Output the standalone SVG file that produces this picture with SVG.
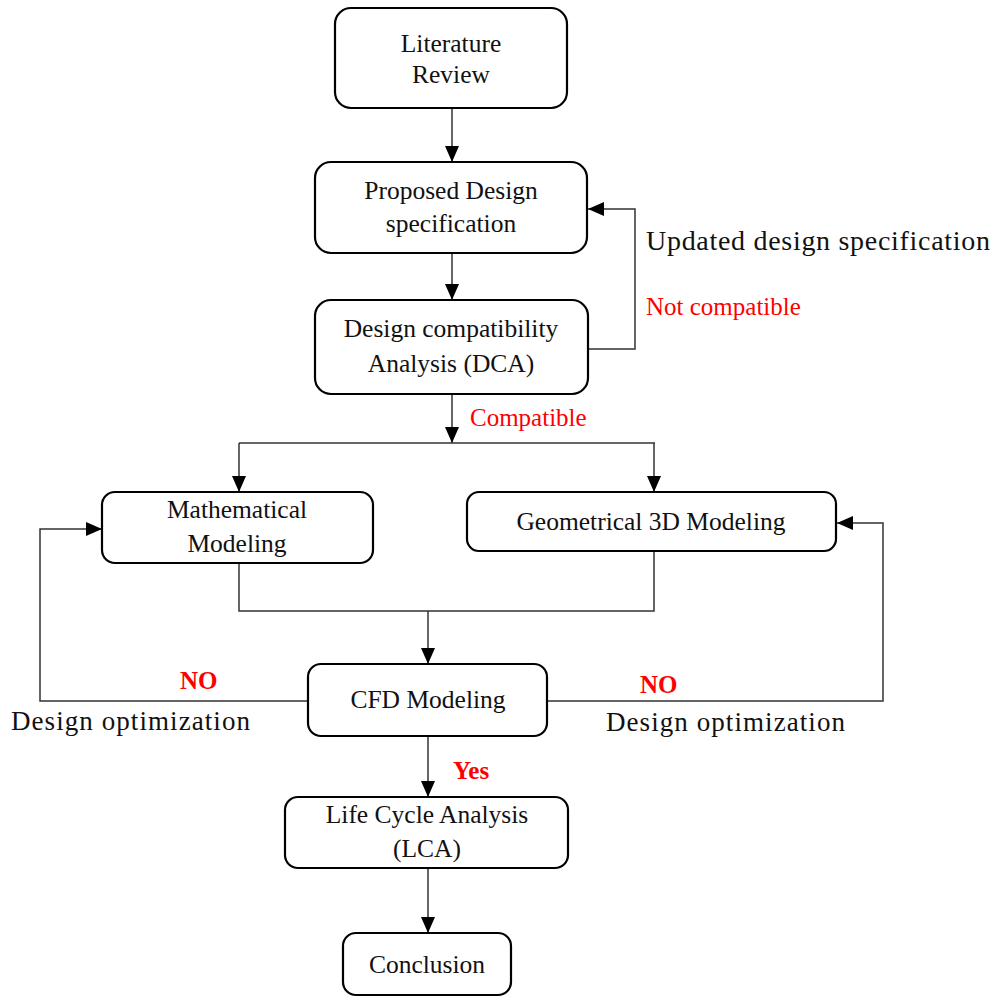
<svg xmlns="http://www.w3.org/2000/svg" width="995" height="997" viewBox="0 0 995 997">
<defs>
<marker id="ah" markerUnits="userSpaceOnUse" markerWidth="16" markerHeight="16" viewBox="0 0 16 16" refX="16" refY="8" orient="auto">
<path d="M0,1 L16,8 L0,15 Z" fill="#000"/>
</marker>
<style>
.box{fill:#fff;stroke:#000;stroke-width:2.2}
.t{font-family:"Liberation Serif","Times New Roman",serif;font-size:25.5px;fill:#111;text-anchor:middle}
.lbl{font-family:"Liberation Serif","Times New Roman",serif;fill:#111}
.red{font-family:"Liberation Serif","Times New Roman",serif;font-size:25px;fill:#ff0000}
.bold{font-weight:bold}
.c{fill:none;stroke:#333;stroke-width:1.5}
</style>
</defs>
<rect width="995" height="997" fill="#fff"/>
<g id="connectors">
<line class="c" x1="452" y1="108" x2="452" y2="162" marker-end="url(#ah)"/>
<line class="c" x1="452" y1="253" x2="452" y2="300" marker-end="url(#ah)"/>
<polyline class="c" points="588,349 635,349 635,209 588,209" marker-end="url(#ah)"/>
<line class="c" x1="452" y1="394" x2="452" y2="443" marker-end="url(#ah)"/>
<line class="c" x1="239" y1="443" x2="655" y2="443"/>
<line class="c" x1="239" y1="443" x2="239" y2="492" marker-end="url(#ah)"/>
<line class="c" x1="654" y1="443" x2="654" y2="492" marker-end="url(#ah)"/>
<polyline class="c" points="239,563 239,611 654,611 654,551"/>
<line class="c" x1="428" y1="611" x2="428" y2="664" marker-end="url(#ah)"/>
<polyline class="c" points="308,701 40,701 40,529 102,529" marker-end="url(#ah)"/>
<polyline class="c" points="547,701 883,701 883,523 837,523" marker-end="url(#ah)"/>
<line class="c" x1="428" y1="736" x2="428" y2="797" marker-end="url(#ah)"/>
<line class="c" x1="428" y1="868" x2="428" y2="933" marker-end="url(#ah)"/>
</g>
<g id="lit">
<rect class="box" x="335" y="8" width="232" height="100" rx="16"/>
<text class="t" x="451" y="52">Literature</text>
<text class="t" x="451" y="83">Review</text>
</g>
<g id="spec">
<rect class="box" x="315" y="162" width="272" height="91" rx="16"/>
<text class="t" x="451" y="199">Proposed Design</text>
<text class="t" x="451" y="232">specification</text>
</g>
<g id="dca">
<rect class="box" x="315" y="300" width="273" height="94" rx="16"/>
<text class="t" x="451" y="337">Design compatibility</text>
<text class="t" x="451" y="372">Analysis  (DCA)</text>
</g>
<g id="math">
<rect class="box" x="102" y="492" width="271" height="71" rx="13"/>
<text class="t" x="237" y="518">Mathematical</text>
<text class="t" x="237" y="552">Modeling</text>
</g>
<g id="geo">
<rect class="box" x="467" y="492" width="369" height="59" rx="12"/>
<text class="t" x="651" y="530">Geometrical 3D Modeling</text>
</g>
<g id="cfd">
<rect class="box" x="308" y="664" width="239" height="72" rx="13"/>
<text class="t" x="428" y="708">CFD Modeling</text>
</g>
<g id="lca">
<rect class="box" x="285" y="797" width="283" height="71" rx="13"/>
<text class="t" x="427" y="823">Life Cycle Analysis</text>
<text class="t" x="427" y="857">(LCA)</text>
</g>
<g id="conc">
<rect class="box" x="343" y="933" width="168" height="62" rx="13"/>
<text class="t" x="427" y="973">Conclusion</text>
</g>
<g id="labels">
<text class="lbl" x="646" y="250" font-size="28" textLength="344" lengthAdjust="spacing">Updated design specification</text>
<text class="red" x="646" y="315">Not compatible</text>
<text class="red" x="470" y="426">Compatible</text>
<text class="red bold" x="180" y="689" font-size="24">NO</text>
<text class="red bold" x="640" y="693" font-size="24">NO</text>
<text class="red bold" x="453" y="779" font-size="24">Yes</text>
<text class="lbl" x="11" y="730" font-size="27" textLength="239" lengthAdjust="spacing">Design optimization</text>
<text class="lbl" x="606" y="731" font-size="27" textLength="239" lengthAdjust="spacing">Design optimization</text>
</g>
</svg>
